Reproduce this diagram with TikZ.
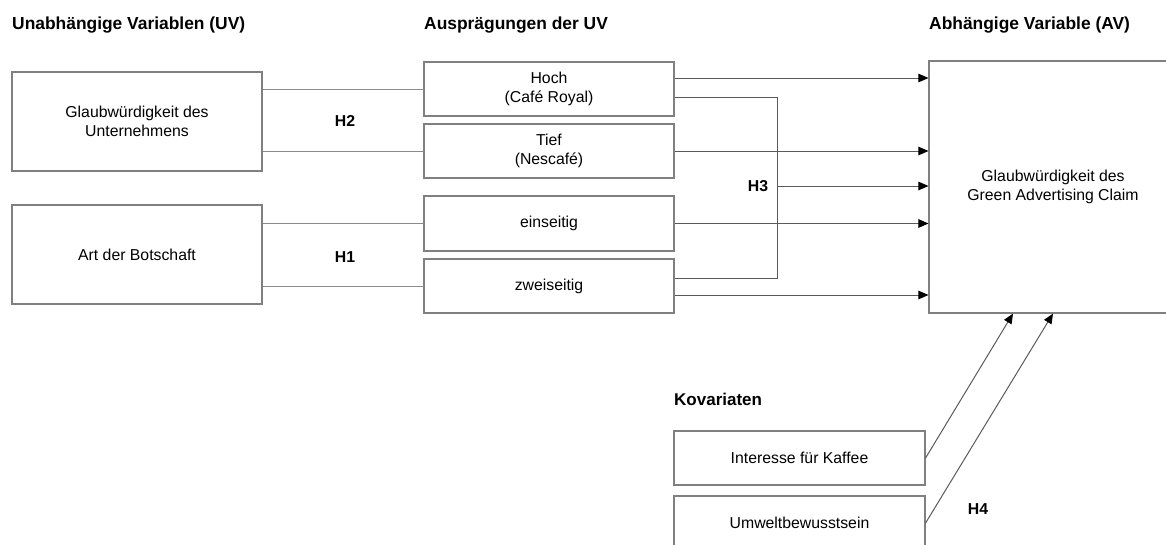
\documentclass[tikz,border=0pt]{standalone}
\usepackage{fontspec}
\setmainfont{Liberation Sans}
\usetikzlibrary{arrows.meta,calc}
\definecolor{boxgray}{HTML}{808080}
\definecolor{linegray}{HTML}{8A8A8A}
\definecolor{arrgray}{HTML}{5A5A5A}
\begin{document}
\begin{tikzpicture}[x=1pt,y=-1pt,
  box/.style={draw=boxgray,line width=1.1pt,rectangle,inner sep=0pt,align=center,
    font=\fontsize{15.8}{18.5}\selectfont},
  head/.style={anchor=west,font=\bfseries\fontsize{17.4}{20}\selectfont,inner sep=0pt},
  hlab/.style={font=\bfseries\fontsize{15.8}{18}\selectfont,inner sep=0pt},
  conn/.style={draw=linegray,line width=1pt},
  arr/.style={draw=arrgray,line width=1pt,-{Triangle[length=10pt,width=8.5pt,black]}}]
\clip (0,0) rectangle (1166,544);
\useasboundingbox (0,0) rectangle (1166,544);
% headers
\node[head] (hUV) at (12,25) {Unabhängige Variablen (UV)};
\node[head] (hAU) at (424,25) {Ausprägungen der UV};
\node[head] (hAV) at (929,25) {Abhängige Variable (AV)};
% left boxes
\node[box,minimum width=250pt,minimum height=99pt] (G) at (137,121.5) {Glaubwürdigkeit des\\Unternehmens};
\node[box,minimum width=250pt,minimum height=99pt] (A) at (137,254.5) {Art der Botschaft};
% middle boxes
\node[box,minimum width=250pt,minimum height=54pt] (hoch) at (549,89) {Hoch\\(Café Royal)};
\node[box,minimum width=250pt,minimum height=54pt] (tief) at (549,151) {Tief\\(Nescafé)};
\node[box,minimum width=250pt,minimum height=55pt] (ein) at (549,223.5) {einseitig};
\node[box,minimum width=250pt,minimum height=54pt] (zwei) at (549,286) {zweiseitig};
% AV box
\node[box,minimum width=248pt,minimum height=252pt] (AV) at (1053,187) {Glaubwürdigkeit des\\Green Advertising Claim};
% covariates
\node[anchor=west,font=\bfseries\fontsize{17}{20}\selectfont,inner sep=0pt] (kov) at (674,399) {Kovariaten};
\node[box,minimum width=251pt,minimum height=54pt] (int) at (799.5,458) {Interesse für Kaffee};
\node[box,minimum width=251pt,minimum height=54pt] (umw) at (799.5,523) {Umweltbewusstsein};
% hypothesis labels
\node[hlab] (H2) at (345,121) {H2};
\node[hlab] (H1) at (345,257) {H1};
\node[hlab] (H3) at (758,186) {H3};
\node[hlab] (H4) at (978,509) {H4};
% left connectors
\draw[conn] (G.east |- hoch.west) -- (hoch.west);
\draw[conn] (G.east |- tief.west) -- (tief.west);
\draw[conn] (A.east |- ein.west) -- (ein.west);
\draw[conn] (A.east |- zwei.west) -- (zwei.west);
% arrows to AV
\coordinate (hA) at ([yshift=11pt]hoch.east);
\coordinate (hB) at ([yshift=-8pt]hoch.east);
\coordinate (zA) at ([yshift=8pt]zwei.east);
\coordinate (zB) at ([yshift=-9pt]zwei.east);
\coordinate (bus) at (777,186);
\draw[arr] (hA) -- (hA -| AV.west);
\draw[arr] (tief.east) -- (tief.east -| AV.west);
\draw[arr] (ein.east) -- (ein.east -| AV.west);
\draw[arr] (zB) -- (zB -| AV.west);
\draw[conn,draw=arrgray] (hB) -| (bus) |- (zA);
\draw[arr] (bus) -- (bus -| AV.west);
% covariate arrows
\draw[arr] (int.east) -- ([xshift=-40pt]AV.south);
\draw[arr] (umw.east) -- (AV.south);
\end{tikzpicture}
\end{document}
